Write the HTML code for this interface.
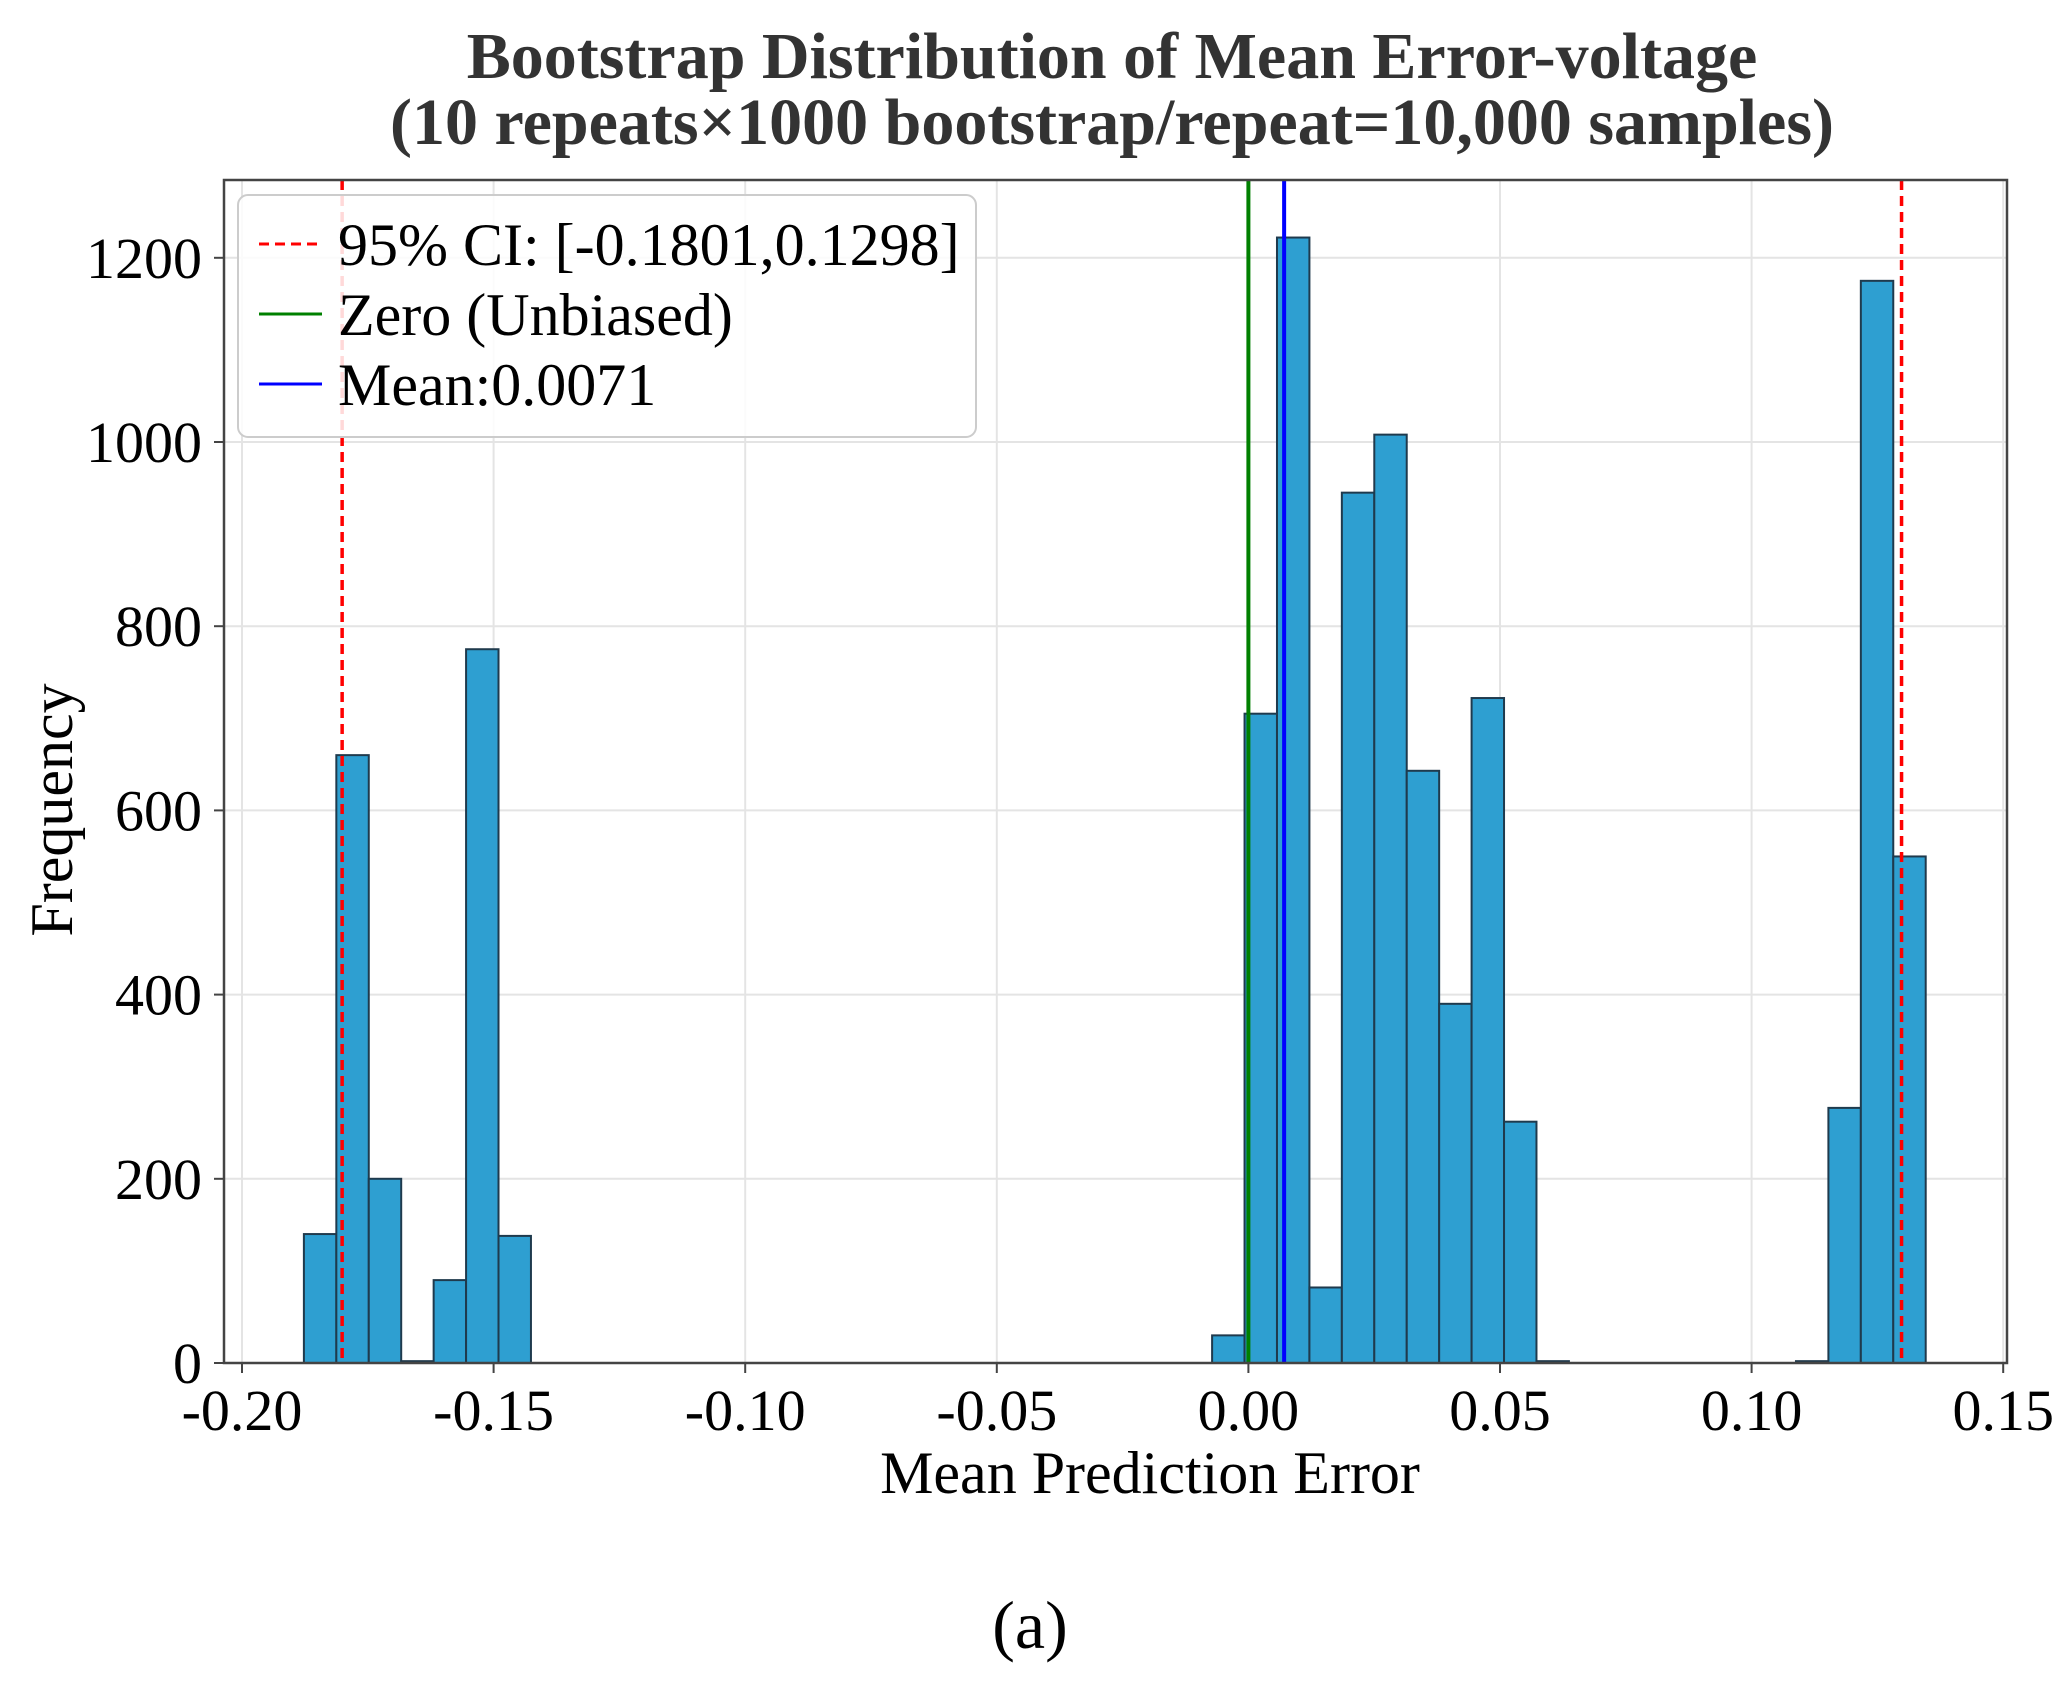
<!DOCTYPE html>
<html><head><meta charset="utf-8"><style>
html,body{margin:0;padding:0;background:#fff;}
svg{display:block;font-family:"Liberation Serif",serif;}
</style></head><body>
<svg id="chart" width="2062" height="1695" viewBox="0 0 2062 1695" xmlns="http://www.w3.org/2000/svg">
<rect width="2062" height="1695" fill="#fff"/>
<text x="1112" y="78" text-anchor="middle" font-size="66" font-weight="bold" fill="#333">Bootstrap Distribution of Mean Error-voltage</text>
<text x="1112" y="144" text-anchor="middle" font-size="66" font-weight="bold" fill="#333">(10 repeats×1000 bootstrap/repeat=10,000 samples)</text>
<g id="grid"></g>
<g id="bars"></g>
<g id="vlines"></g>
<rect x="224" y="180" width="1783" height="1183" fill="none" stroke="#444" stroke-width="2.5"/>
<g id="axes"></g>
<text x="1150" y="1493" text-anchor="middle" font-size="60">Mean Prediction Error</text>
<text transform="translate(72,810) rotate(-90)" text-anchor="middle" font-size="60">Frequency</text>
<g>
<rect x="238" y="195" width="738" height="242" rx="10" fill="#fff" fill-opacity="0.85" stroke="#ccc" stroke-width="2"/>
<line x1="259" y1="244" x2="322" y2="244" stroke="#f00" stroke-width="3" stroke-dasharray="10,6"/>
<text x="338" y="265" font-size="60">95% CI: [-0.1801,0.1298]</text>
<line x1="259" y1="314" x2="322" y2="314" stroke="#008000" stroke-width="3"/>
<text x="338" y="335" font-size="60">Zero (Unbiased)</text>
<line x1="259" y1="384" x2="322" y2="384" stroke="#0000ff" stroke-width="3"/>
<text x="338" y="405" font-size="60">Mean:0.0071</text>
</g>
<text x="1030" y="1648" text-anchor="middle" font-size="68">(a)</text>
</svg>
<script>
const binStart = -0.1877;
const binWidth = 0.006446;
const counts = [140,660,200,2,90,775,138,0,0,0,0,0,0,0,0,0,0,0,0,0,0,0,0,0,0,0,0,0,30,705,1222,82,945,1008,643,390,722,262,2,0,0,0,0,0,0,0,2,277,1175,550];
const xTicks = [-0.20,-0.15,-0.10,-0.05,0.00,0.05,0.10,0.15];
const xTickLabels = ["-0.20","-0.15","-0.10","-0.05","0.00","0.05","0.10","0.15"];
const yTicks = [0,200,400,600,800,1000,1200];
const ciBounds = [-0.1801,0.1298];
const zeroLine = [0];
const meanLine = [0.0071];

const NS = "http://www.w3.org/2000/svg";
function X(v){ return 242 + (v + 0.20) / 0.05 * 251.6; }
function Y(v){ return 1363 - v / 200 * 184.2; }
function mk(tag, attrs, parent){ const e = document.createElementNS(NS, tag); for (const k in attrs) e.setAttribute(k, attrs[k]); parent.appendChild(e); return e; }

const grid = document.getElementById('grid');
const axes = document.getElementById('axes');
xTicks.forEach((t,i) => {
  const g = mk('line', {x1:X(t), x2:X(t), y1:180, y2:1363, stroke:'#e4e4e4', 'stroke-width':2}, grid);
  
  
  const tk = mk('line', {x1:X(t), x2:X(t), y1:1363, y2:1373, stroke:'#444', 'stroke-width':2}, axes);
  
  
  const lb = mk('text', {x:X(t), y:1430, 'text-anchor':'middle', 'font-size':58}, axes);
  lb.textContent = xTickLabels[i];
  
  
});
yTicks.forEach(t => {
  const g = mk('line', {x1:224, x2:2007, y1:Y(t), y2:Y(t), stroke:'#e4e4e4', 'stroke-width':2}, grid);
  
  
  const tk = mk('line', {x1:214, x2:224, y1:Y(t), y2:Y(t), stroke:'#444', 'stroke-width':2}, axes);
  
  
  const lb = mk('text', {x:202, y:Y(t)+20, 'text-anchor':'end', 'font-size':58}, axes);
  lb.textContent = String(t);
  
  
});
const bars = document.getElementById('bars');
counts.forEach((c,i) => {
  if (c <= 0) return;
  const x0 = X(binStart + i*binWidth), x1 = X(binStart + (i+1)*binWidth);
  const r = mk('rect', {x:x0, y:Y(c), width:x1-x0, height:1363-Y(c), fill:'#2e9fd1', stroke:'#1f3a4d', 'stroke-width':2}, bars);
  
  
});
const vl = document.getElementById('vlines');
ciBounds.forEach(v => {
  const l = mk('line', {x1:X(v), x2:X(v), y1:180, y2:1363, stroke:'#ff0000', 'stroke-width':3.5, 'stroke-dasharray':'10,6'}, vl);
  
  
});
zeroLine.forEach(v => {
  const l = mk('line', {x1:X(v), x2:X(v), y1:180, y2:1363, stroke:'#008000', 'stroke-width':4}, vl);
  
  
});
meanLine.forEach(v => {
  const l = mk('line', {x1:X(v), x2:X(v), y1:180, y2:1363, stroke:'#0000ff', 'stroke-width':4}, vl);
  
  
});
</script>
</body></html>
